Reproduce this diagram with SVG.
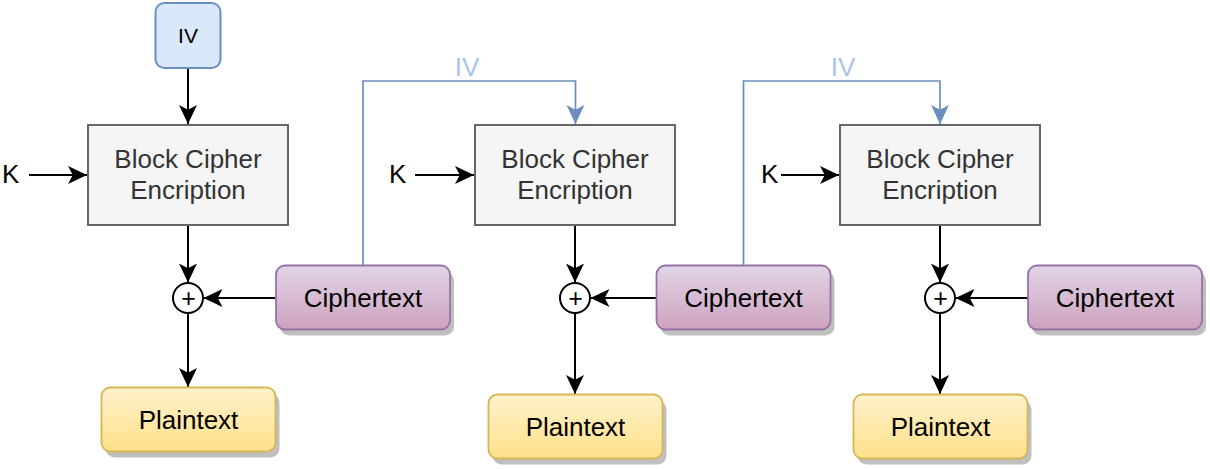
<svg xmlns="http://www.w3.org/2000/svg" width="1210" height="469" viewBox="0 0 1210 469">
<style>
text{font-family:"Liberation Sans",Arial,Helvetica,sans-serif;}
.t26{font-size:26px;text-anchor:middle;}
.blk{fill:#f5f5f5;stroke:#666666;stroke-width:2;}
.blkt{fill:#333333;}
.ct{fill:url(#gPurple);stroke:#9673a6;stroke-width:1.8;}
.pt{fill:url(#gYellow);stroke:#d6b656;stroke-width:1.8;}
.sh{fill:#000;fill-opacity:0.25;}
.xor{fill:#ffffff;stroke:#000;stroke-width:2;}
.plus{font-size:25px;text-anchor:middle;fill:#000;}
.edge{fill:none;stroke:#000;stroke-width:2;marker-end:url(#arrK);}
.edgeB{fill:none;stroke:#6c8ebf;stroke-width:1.7;marker-end:url(#arrB);}
.ivl{fill:#a9c4eb;font-size:26px;text-anchor:middle;}
</style>
<defs>
<linearGradient id="gPurple" x1="0" y1="0" x2="0" y2="1">
<stop offset="0" stop-color="#e1d5e7"/>
<stop offset="1" stop-color="#cda2be"/>
</linearGradient>
<linearGradient id="gYellow" x1="0" y1="0" x2="0" y2="1">
<stop offset="0" stop-color="#fff2cc"/>
<stop offset="1" stop-color="#ffe18a"/>
</linearGradient>
<marker id="arrK" markerUnits="userSpaceOnUse" markerWidth="19" markerHeight="19" viewBox="0 0 19 18" refX="19" refY="9" orient="auto">
<path d="M0,0 L19,9 L0,18 L4.75,9 Z" fill="#000"/>
</marker>
<marker id="arrB" markerUnits="userSpaceOnUse" markerWidth="19" markerHeight="19" viewBox="0 0 19 18" refX="19" refY="9" orient="auto">
<path d="M0,0 L19,9 L0,18 L4.75,9 Z" fill="#6c8ebf"/>
</marker>
</defs>
<rect width="1210" height="469" fill="#ffffff"/>

<g id="connectors">
<line class="edge" x1="188" y1="68" x2="188" y2="124"/>
<line class="edge" x1="29" y1="175" x2="87" y2="175"/>
<line class="edge" x1="188" y1="226" x2="188" y2="282.5"/>
<line class="edge" x1="275" y1="298" x2="203.5" y2="298"/>
<line class="edge" x1="188" y1="313.5" x2="188" y2="387"/>

<line class="edge" x1="415" y1="175" x2="474" y2="175"/>
<line class="edge" x1="575" y1="226" x2="575" y2="282.5"/>
<line class="edge" x1="656" y1="298" x2="590.5" y2="298"/>
<line class="edge" x1="575" y1="313.5" x2="575" y2="394"/>

<line class="edge" x1="781" y1="175" x2="839" y2="175"/>
<line class="edge" x1="940" y1="226" x2="940" y2="282.5"/>
<line class="edge" x1="1028" y1="298" x2="955.5" y2="298"/>
<line class="edge" x1="940" y1="313.5" x2="940" y2="394"/>

<path class="edgeB" d="M363,265 L363,81 L575.5,81 L575.5,124"/>
<path class="edgeB" d="M743.5,265 L743.5,81 L940,81 L940,124"/>
<text class="ivl" x="467" y="76">IV</text>
<text class="ivl" x="843" y="76">IV</text>
</g>

<g id="iv">
<rect x="155.5" y="3" width="65" height="65" rx="9" fill="#dae8fc" stroke="#6c8ebf" stroke-width="2"/>
<text x="188" y="43" font-size="21" text-anchor="middle" fill="#000">IV</text>
</g>

<g id="k1"><text x="2" y="183" font-size="26" fill="#000">K</text></g>
<g id="k2"><text x="389" y="183" font-size="26" fill="#000">K</text></g>
<g id="k3"><text x="761" y="183" font-size="26" fill="#000">K</text></g>

<g id="block1">
<rect class="blk" x="88" y="125" width="200" height="100"/>
<text class="t26 blkt" x="188" y="168">Block Cipher</text>
<text class="t26 blkt" x="188" y="199">Encription</text>
</g>
<g id="block2">
<rect class="blk" x="475" y="125" width="200" height="100"/>
<text class="t26 blkt" x="575" y="168">Block Cipher</text>
<text class="t26 blkt" x="575" y="199">Encription</text>
</g>
<g id="block3">
<rect class="blk" x="840" y="125" width="200" height="100"/>
<text class="t26 blkt" x="940" y="168">Block Cipher</text>
<text class="t26 blkt" x="940" y="199">Encription</text>
</g>

<g id="xor1">
<circle class="xor" cx="188" cy="298" r="15"/>
<text class="plus" x="188.5" y="307">+</text>
</g>
<g id="xor2">
<circle class="xor" cx="575" cy="298" r="15"/>
<text class="plus" x="575.5" y="307">+</text>
</g>
<g id="xor3">
<circle class="xor" cx="940" cy="298" r="15"/>
<text class="plus" x="940.5" y="307">+</text>
</g>

<g id="cipher1">
<rect class="sh" x="280" y="271.5" width="174" height="64" rx="9"/>
<rect class="ct" x="276" y="265.5" width="174" height="64" rx="9"/>
<text class="t26" x="363" y="306.5" fill="#000">Ciphertext</text>
</g>
<g id="cipher2">
<rect class="sh" x="660.5" y="271.5" width="174" height="64" rx="9"/>
<rect class="ct" x="656.5" y="265.5" width="174" height="64" rx="9"/>
<text class="t26" x="743.5" y="306.5" fill="#000">Ciphertext</text>
</g>
<g id="cipher3">
<rect class="sh" x="1032" y="271.5" width="174" height="64" rx="9"/>
<rect class="ct" x="1028" y="265.5" width="174" height="64" rx="9"/>
<text class="t26" x="1115" y="306.5" fill="#000">Ciphertext</text>
</g>

<g id="plain1">
<rect class="sh" x="105.5" y="393.5" width="174" height="64" rx="9"/>
<rect class="pt" x="101.5" y="387.5" width="174" height="64" rx="9"/>
<text class="t26" x="188.5" y="428.5" fill="#000">Plaintext</text>
</g>
<g id="plain2">
<rect class="sh" x="492.5" y="400.5" width="174" height="64" rx="9"/>
<rect class="pt" x="488.5" y="394.5" width="174" height="64" rx="9"/>
<text class="t26" x="575.5" y="435.5" fill="#000">Plaintext</text>
</g>
<g id="plain3">
<rect class="sh" x="857.5" y="400.5" width="174" height="64" rx="9"/>
<rect class="pt" x="853.5" y="394.5" width="174" height="64" rx="9"/>
<text class="t26" x="940.5" y="435.5" fill="#000">Plaintext</text>
</g>
</svg>
